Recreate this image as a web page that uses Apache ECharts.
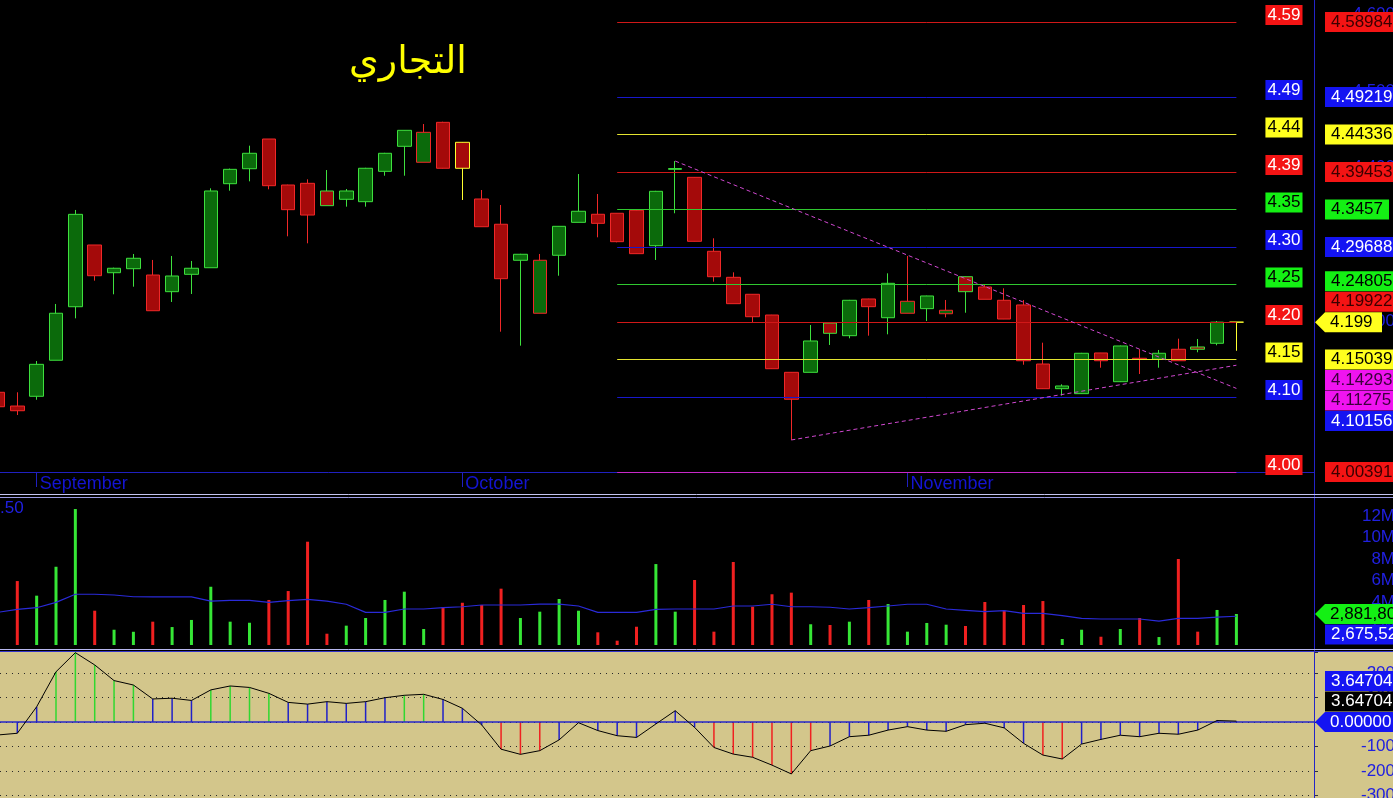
<!DOCTYPE html>
<html><head><meta charset="utf-8">
<script src="https://cdn.jsdelivr.net/npm/echarts@6/dist/echarts.min.js"></script>
<style>html,body{margin:0;padding:0;background:#000;overflow:hidden}#c{width:1393px;height:798px}</style>
</head><body><div id="c"></div>
<script>
// ---------------- data ----------------
const chartTitle = 'التجاري';
const monthTickIdx = [2, 24, 47];
const monthNames = ['September', 'October', 'November'];

const opens  = [4.1077,4.0898,4.1025,4.1494,4.2191,4.2995,4.2634,4.2686,4.2604,4.2387,
                4.2613,4.2699,4.3793,4.3988,4.4375,4.3776,4.3798,4.3698,4.3590,4.3559,
                4.3954,4.4280,4.4072,4.4592,4.4332,4.3594,4.3265,4.2796,4.2106,4.2861,
                4.3290,4.3395,4.3408,4.3447,4.2986,4.3980,4.3876,4.2913,4.2574,4.2353,
                4.2083,4.1337,4.1337,4.1979,4.1814,4.2292,4.2048,4.2106,4.2166,4.2100,
                4.2582,4.2448,4.2275,4.2214,4.1445,4.1124,4.1059,4.1589,4.1215,4.1520,
                4.1507,4.1637,4.1667,4.1715,4.1990];
const closes = [4.0889,4.0837,4.1441,4.2106,4.3394,4.2595,4.2692,4.2822,4.2139,4.2591,
                4.2692,4.3698,4.3980,4.4189,4.3767,4.3455,4.3385,4.3507,4.3698,4.3994,
                4.4189,4.4488,4.4462,4.3994,4.3994,4.3233,4.2556,4.2874,4.2796,4.3238,
                4.3434,4.3277,4.3038,4.2882,4.3694,4.3990,4.3043,4.2582,4.2231,4.2061,
                4.1384,4.0986,4.1745,4.1845,4.2275,4.2192,4.2496,4.2262,4.2331,4.2145,
                4.2387,4.2288,4.2031,4.1488,4.1124,4.1159,4.1585,4.1488,4.1680,4.1505,
                4.1585,4.1488,4.1637,4.1990,4.1990];
const lows   = [4.0850,4.0781,4.0980,4.1494,4.2040,4.2530,4.2353,4.2452,4.2139,4.2253,
                4.2357,4.2699,4.3702,4.3824,4.3720,4.3108,4.3017,4.3507,4.3494,4.3494,
                4.3897,4.3897,4.4072,4.3990,4.3581,4.3233,4.1866,4.1684,4.2106,4.2595,
                4.3290,4.3095,4.3030,4.2880,4.2800,4.3408,4.3040,4.2517,4.2231,4.1988,
                4.1380,4.0456,4.1337,4.1693,4.1780,4.1814,4.1832,4.2106,4.2005,4.2053,
                4.2113,4.2288,4.2030,4.1436,4.1120,4.1033,4.1055,4.1397,4.1210,4.1315,
                4.1397,4.1485,4.1598,4.1689,4.1618];
const highs  = [4.1120,4.1077,4.1484,4.2227,4.3451,4.2995,4.2700,4.2878,4.2800,4.2852,
                4.2787,4.3733,4.3990,4.4288,4.4375,4.3780,4.3850,4.3971,4.3724,4.4000,
                4.4195,4.4490,4.4570,4.4600,4.4335,4.3711,4.3516,4.2880,4.2878,4.3240,
                4.3919,4.3659,4.3410,4.3450,4.3700,4.4088,4.3880,4.3082,4.2639,4.2355,
                4.2085,4.1340,4.1953,4.1980,4.2280,4.2295,4.2626,4.2852,4.2335,4.2279,
                4.2585,4.2483,4.2431,4.2279,4.1723,4.1181,4.1590,4.1590,4.1685,4.1637,
                4.1628,4.1775,4.1771,4.2005,4.1990];

// volume in millions
const volumeM = [2.60,5.95,4.59,7.28,12.65,3.19,1.42,1.23,2.17,1.67,
                 2.33,5.42,2.17,2.07,4.19,5.02,9.61,1.05,1.80,2.51,
                 4.19,4.96,1.49,3.51,3.93,3.72,5.24,2.51,3.10,4.28,
                 3.19,1.18,0.40,1.70,7.53,3.10,6.05,1.24,7.72,3.56,
                 4.72,4.87,1.93,1.86,2.17,4.19,3.81,1.24,2.05,1.89,
                 1.77,4.00,3.19,3.72,4.09,0.56,1.42,0.77,1.49,2.51,
                 0.74,8.00,1.24,3.26,2.8818];
const volumeMAM = [3.04,3.32,3.47,3.97,4.72,4.72,4.65,4.49,4.47,4.47,
                   4.47,4.09,4.16,4.16,3.97,4.12,4.25,4.09,3.79,3.04,
                   3.04,3.35,3.35,3.47,3.56,3.72,3.72,3.72,3.81,3.81,
                   3.63,3.04,3.04,3.04,3.32,3.35,3.35,3.35,3.63,3.63,
                   3.79,3.56,3.56,3.51,3.35,3.47,3.63,3.79,3.79,3.35,
                   3.23,3.10,3.19,2.95,2.95,2.73,2.48,2.42,2.42,2.42,
                   2.23,2.48,2.48,2.60,2.67552];
const oscValues = [-53,-46,62,205,283,233,169,151,94,97,
                   88,131,147,141,117,80,73,83,76,83,
                   99,109,113,92,56,-12,-111,-132,-117,-73,
                   -3,-35,-56,-63,-8,46,-22,-104,-131,-144,
                   -176,-212,-117,-98,-60,-54,-33,-19,-33,-38,
                   -11,-5,-24,-87,-135,-151,-90,-71,-54,-60,
                   -46,-50,-33,6,3.64704];

const levelValues = [4.58984,4.49219,4.44336,4.39453,4.34570,4.29688,4.24805,4.19922,4.15039,4.10156,4.00391];
const levelStartIdx = 32;
const trendStartIdx = [35, 41];
const trendStartVal = [4.4088, 4.0456];
const trendEndVal   = [4.11275, 4.14293];

// ---------------- styles ----------------
const levelLineColors  = ['red','blue','yellow','red','green','blue','green','red','yellow','blue','magenta'];
const levelLabelColors = ['red','blue','yellow','red','green','blue','green','red','yellow','blue','red'];
const PAL = {
  red:    {line:'#d01818', box:'#f41414', txtL:'#ffffff', txtR:'#3a0000'},
  blue:   {line:'#1818cc', box:'#1414f2', txtL:'#ffffff', txtR:'#ffffff'},
  yellow: {line:'#e4e430', box:'#ffff1e', txtL:'#000000', txtR:'#000000'},
  green:  {line:'#30c830', box:'#14f014', txtL:'#000000', txtR:'#000000'},
  magenta:{line:'#c828c8', box:'#f014f0', txtL:'#ffffff', txtR:'#3a003a'}
};
const CC = {fillUp:'#0b6a0b', fillDn:'#a40a0a', up:'#3ee03e', dn:'#f02828', eq:'#ffff30'};
const AXIS_BLUE = '#2020e0';
const FONT = '17px "Liberation Sans", Arial, sans-serif';
const xMin = 0.106, xMax = 68.01;

const N = closes.length, last = N - 1;

const candleData = opens.map((o, i) => {
  const c = closes[i];
  const fill = c >= o ? CC.fillUp : CC.fillDn;
  let edge;
  if (i === 0) edge = c >= o ? CC.up : CC.dn;
  else {
    const d = c - closes[i - 1];
    edge = Math.abs(d) < 1e-9 ? CC.eq : (d > 0 ? CC.up : CC.dn);
  }
  return {value: [i, o, c, lows[i], highs[i]],
    itemStyle: {color: fill, color0: fill, borderColor: edge, borderColor0: edge, borderColorDoji: edge}};
});
const volData = volumeM.map((v, i) => ({value: [i, v],
  itemStyle: {color: closes[i] >= opens[i] ? '#36e636' : '#f02020'}}));
const maData = volumeMAM.map((v, i) => [i, v]);
const oscBarData = oscValues.map((v, i) => ({value: [i, v],
  itemStyle: {color: v > 100 ? '#30d830' : (v < -100 ? '#f02020' : '#2020c8')}}));
const oscLineData = oscValues.map((v, i) => [i, v]);
const closeLine = closes.map((v, i) => [i, v]);

const levelMarks = levelValues.map((v, k) => [
  {coord: [levelStartIdx, v], lineStyle: {color: PAL[levelLineColors[k]].line, width: 1, type: 'solid'}},
  {coord: [last, v]}
]);
const trendMarks = trendStartIdx.map((s, k) => [
  {coord: [s, trendStartVal[k]]}, {coord: [last, trendEndVal[k]]}
]);

const hiddenX = (g) => ({type: 'value', gridIndex: g, min: xMin, max: xMax,
  axisLine: {show: false}, axisTick: {show: false}, axisLabel: {show: false}, splitLine: {show: false}});

const option = {
  animation: false,
  backgroundColor: '#000000',
  grid: [
    {left: 0, top: 0, width: 1314, height: 475, outerBoundsMode: 'none', containLabel: false},
    {left: 0, top: 497, width: 1314, height: 148, outerBoundsMode: 'none', containLabel: false},
    {left: 0, top: 652, width: 1314, height: 168, outerBoundsMode: 'none', containLabel: false}
  ],
  xAxis: [
    {type: 'value', gridIndex: 0, min: xMin, max: xMax, offset: -3,
      axisLine: {show: true, lineStyle: {color: '#2020c0', width: 1}},
      axisTick: {show: true, customValues: monthTickIdx, length: 15, lineStyle: {color: '#2020c0'}},
      axisLabel: {show: true, customValues: monthTickIdx,
        formatter: v => { const k = monthTickIdx.indexOf(Math.round(v)); return k >= 0 ? monthNames[k] : ''; },
        color: '#1414d2', fontSize: 18, fontFamily: 'Liberation Sans', align: 'left', margin: 3, padding: [0, 0, 0, 3]},
      splitLine: {show: false}},
    hiddenX(1), hiddenX(2)
  ],
  yAxis: [
    {type: 'value', gridIndex: 0, position: 'right', min: 4.0, max: 4.6185, interval: 0.1,
      axisLine: {show: false}, axisTick: {show: false}, splitLine: {show: false},
      axisLabel: {color: AXIS_BLUE, fontSize: 17, fontFamily: 'Liberation Sans', align: 'right', margin: 81,
        formatter: v => Math.abs(v * 10 - Math.round(v * 10)) < 1e-6 ? v.toFixed(3) : ''}},
    {type: 'value', gridIndex: 1, position: 'right', min: 0, max: 13.77, interval: 2,
      axisLine: {show: false}, axisTick: {show: false}, splitLine: {show: false},
      axisLabel: {color: AXIS_BLUE, fontSize: 17, fontFamily: 'Liberation Sans', align: 'right', margin: 81,
        formatter: v => (v > 0 && Math.abs(v - Math.round(v)) < 1e-6) ? Math.round(v) + 'M' : ''}},
    {type: 'value', gridIndex: 2, position: 'right', min: -400, max: 285.7, interval: 100,
      axisLine: {show: false}, axisTick: {show: true, length: 4, lineStyle: {color: '#333'}},
      splitLine: {show: true, showMaxLine: false, lineStyle: {color: '#2a2a2a', width: 1, type: [1, 5]}},
      axisLabel: {color: AXIS_BLUE, fontSize: 17, fontFamily: 'Liberation Sans', align: 'right', margin: 81,
        formatter: v => Math.abs(v % 100) < 1e-6 ? String(v) : ''}}
  ],
  series: [
    {type: 'line', name: 'levels', xAxisIndex: 0, yAxisIndex: 0, data: closeLine, z: 1, silent: true,
      symbol: 'none', lineStyle: {opacity: 0},
      markLine: {silent: true, symbol: ['none', 'none'], label: {show: false}, animation: false,
        lineStyle: {width: 1, type: 'solid'}, data: levelMarks}},
    {type: 'candlestick', name: 'price', xAxisIndex: 0, yAxisIndex: 0, z: 3, barWidth: 14,
      encode: {x: 0, y: [1, 2, 3, 4]}, data: candleData,
      itemStyle: {borderWidth: 1}, emphasis: {disabled: true}},
    {type: 'line', name: 'trend', xAxisIndex: 0, yAxisIndex: 0, data: closeLine, z: 6, silent: true,
      symbol: 'none', lineStyle: {opacity: 0},
      markLine: {silent: true, symbol: ['none', 'none'], label: {show: false}, animation: false,
        lineStyle: {color: '#d048d0', width: 1, type: [4, 3]}, data: trendMarks}},
    {type: 'bar', name: 'volume', xAxisIndex: 1, yAxisIndex: 1, barWidth: 3, data: volData, z: 3},
    {type: 'line', name: 'volMA', xAxisIndex: 1, yAxisIndex: 1, data: maData, symbol: 'none', z: 4,
      lineStyle: {color: '#2a2ad8', width: 1.2}},
    {type: 'bar', name: 'oscHist', xAxisIndex: 2, yAxisIndex: 2, barWidth: 1.5, data: oscBarData, z: 3},
    {type: 'line', name: 'osc', xAxisIndex: 2, yAxisIndex: 2, data: oscLineData, symbol: 'none', z: 5,
      lineStyle: {color: '#000000', width: 1},
      markLine: {silent: true, symbol: ['none', 'none'], label: {show: false}, animation: false,
        lineStyle: {color: '#2626c8', width: 1.5, type: 'solid'}, data: [{yAxis: 0}]}}
  ]
};

const chart = echarts.init(document.getElementById('c'), null, {renderer: 'canvas'});
chart.setOption(option);

// ---------------- right-side value labels ----------------
const py = (g, v) => chart.convertToPixel({gridIndex: g}, [last, v])[1];
const pxIdx = (x) => chart.convertToPixel({gridIndex: 0}, [x, 4.2])[0];
const RX = 1325, TIP = 1315, GAP = 20.5;

function tbox(x, y, text, bg, fg, pad) {
  return {type: 'text', z: 50, x: x, y: y, silent: true,
    style: {text: text, fill: fg, backgroundColor: bg, padding: pad || [2, 6, 1, 6], font: FONT, lineHeight: 17,
      textAlign: 'left', textVerticalAlign: 'middle', align: 'left', verticalAlign: 'middle'}};
}
function arrow(y, text, bg, fg, w) {
  return [
    {type: 'polygon', z: 49, silent: true,
      shape: {points: [[TIP, y], [RX, y - 10], [RX + w, y - 10], [RX + w, y + 10], [RX, y + 10]]}, style: {fill: bg}},
    {type: 'text', z: 50, x: RX + 5, y: y, silent: true,
      style: {text: text, fill: fg, font: FONT, textAlign: 'left', textVerticalAlign: 'middle', align: 'left', verticalAlign: 'middle'}}
  ];
}
function place(anchorY, items) {
  items.sort((a, b) => a.nat - b.nat);
  const above = items.filter(it => it.nat <= anchorY).reverse();
  const below = items.filter(it => it.nat > anchorY);
  let prev = anchorY;
  above.forEach(it => { it.y = Math.min(it.nat, prev - GAP); prev = it.y; });
  prev = anchorY;
  below.forEach(it => { it.y = Math.max(it.nat, prev + GAP); prev = it.y; });
  return items;
}
const fmtNum = v => String(parseFloat(v.toFixed(5)));

const g = [];
// backgrounds and frame
g.push({type: 'rect', z: -10, silent: true, shape: {x: 0, y: 652, width: 1393, height: 146}, style: {fill: '#d3c68b'}});
g.push({type: 'line', z: 45, silent: true, shape: {x1: 0, y1: 494.5, x2: 1393, y2: 494.5}, style: {stroke: '#c4c4f0', lineWidth: 1}});
g.push({type: 'line', z: 45, silent: true, shape: {x1: 0, y1: 497.5, x2: 1393, y2: 497.5}, style: {stroke: '#9a9ae4', lineWidth: 1}});
g.push({type: 'line', z: 45, silent: true, shape: {x1: 0, y1: 649.5, x2: 1393, y2: 649.5}, style: {stroke: '#b8b8ee', lineWidth: 1}});
g.push({type: 'line', z: 45, silent: true, shape: {x1: 0, y1: 651.5, x2: 1393, y2: 651.5}, style: {stroke: '#3434c8', lineWidth: 1.2}});
g.push({type: 'line', z: 44, silent: true, shape: {x1: 1314.5, y1: 0, x2: 1314.5, y2: 798}, style: {stroke: '#2424c8', lineWidth: 1}});

// title and volume caption
g.push({type: 'text', z: 50, x: 408, y: 63, silent: true,
  style: {text: chartTitle, fill: '#ffff00', font: '38px "DejaVu Sans", sans-serif',
    textAlign: 'center', textVerticalAlign: 'middle', align: 'center', verticalAlign: 'middle'}});
g.push({type: 'text', z: 50, x: 0, y: 508, silent: true,
  style: {text: '.50', fill: AXIS_BLUE, font: FONT, textAlign: 'left', textVerticalAlign: 'middle', align: 'left', verticalAlign: 'middle'}});

// price: rounded labels next to level lines
const leftX = pxIdx(last + 1.5);
levelValues.forEach((v, k) => {
  const p = PAL[levelLabelColors[k]];
  g.push(tbox(leftX, py(0, v) - 7, v.toFixed(2), p.box, p.txtL, [2, 2, 1, 2]));
});
// price: stacked exact labels
const priceItems = levelValues.map((v, k) => ({nat: py(0, v), text: fmtNum(v), pal: PAL[levelLabelColors[k]]}))
  .concat(trendEndVal.map(v => ({nat: py(0, v), text: fmtNum(v), pal: PAL.magenta})));
const curY = py(0, closes[last]);
place(curY, priceItems).forEach(it => g.push(tbox(RX, it.y, it.text, it.pal.box, it.pal.txtR)));
arrow(curY, closes[last].toFixed(3), '#ffff1e', '#000000', 57).forEach(e => g.push(e));

// volume labels
const volY = py(1, volumeM[last]);
const volItems = place(volY, [{nat: py(1, volumeMAM[last]), text: Math.round(volumeMAM[last] * 1e6).toLocaleString('en-US')}]);
arrow(volY, Math.round(volumeM[last] * 1e6).toLocaleString('en-US'), '#14f014', '#000000', 90).forEach(e => g.push(e));
volItems.forEach(it => g.push(tbox(RX, it.y, it.text, '#1414f2', '#ffffff')));

// oscillator labels (nearest to zero anchor first: black, then blue)
const zeroY = py(2, 0);
const oscLast = oscValues[last];
const oscItems = [{nat: py(2, oscLast), text: oscLast.toFixed(5), bg: '#000000'},
                  {nat: py(2, oscLast), text: oscLast.toFixed(5), bg: '#1414f2'}];
let prevY = zeroY;
oscItems.forEach(it => { it.y = Math.min(it.nat, prevY - GAP); prevY = it.y; });
oscItems.forEach(it => g.push(tbox(RX, it.y, it.text, it.bg, '#ffffff')));
arrow(zeroY, (0).toFixed(5), '#1414f2', '#ffffff', 90).forEach(e => g.push(e));

chart.setOption({graphic: g});
</script>
</body></html>
